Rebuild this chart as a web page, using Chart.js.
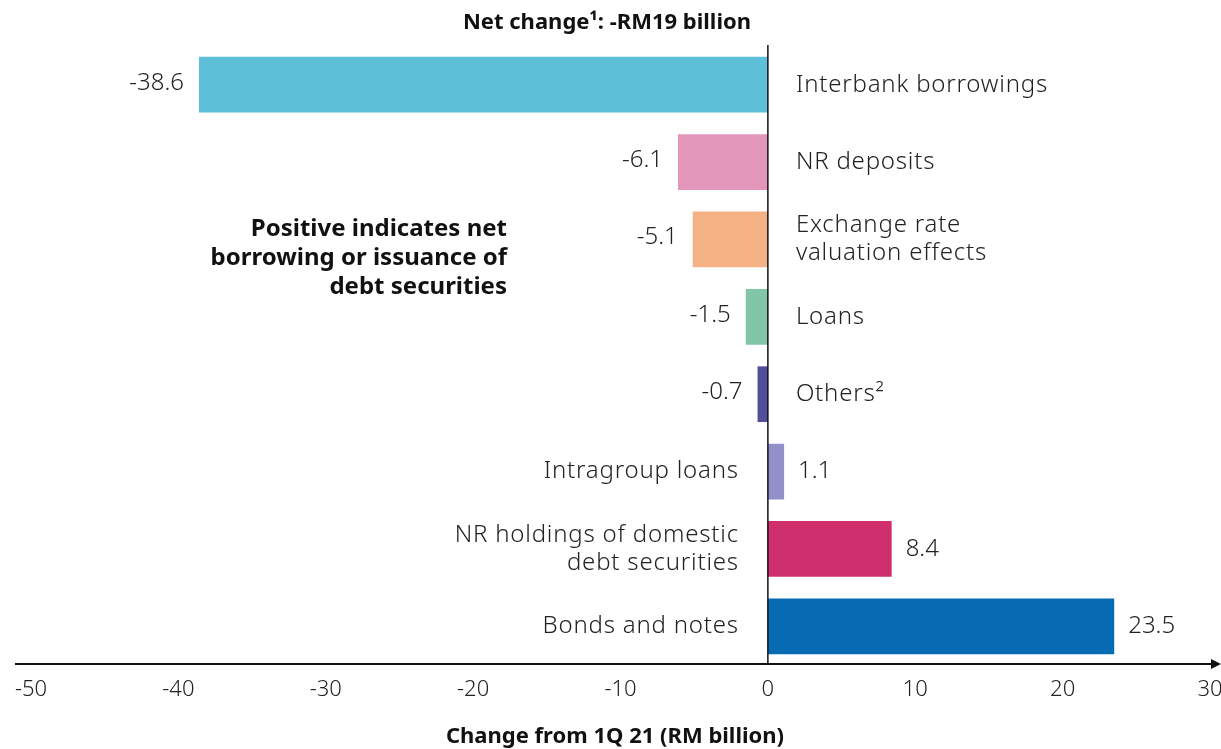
<!DOCTYPE html>
<html>
<head>
<meta charset="utf-8">
<script src="https://cdn.jsdelivr.net/npm/chart.js@4/dist/chart.umd.min.js"></script>
<style>
  html, body { margin: 0; padding: 0; background: #fff; }
  #wrap { width: 1221px; height: 749px; position: relative; }
</style>
</head>
<body>
<div id="wrap"><canvas id="myChart"></canvas></div>
<script>
var categories = [
  ['Interbank borrowings'],
  ['NR deposits'],
  ['Exchange rate', 'valuation effects'],
  ['Loans'],
  ['Others\u00B2'],
  ['Intragroup loans'],
  ['NR holdings of domestic', 'debt securities'],
  ['Bonds and notes']
];
var values = [-38.6, -6.1, -5.1, -1.5, -0.7, 1.1, 8.4, 23.5];
var valueLabels = ['-38.6', '-6.1', '-5.1', '-1.5', '-0.7', '1.1', '8.4', '23.5'];
var barColors = ['#5DC0D8', '#E196BA', '#F4B183', '#82C6A8', '#514E9C', '#9190C8', '#CF2F6D', '#066BB3'];
var xTicks = [-50, -40, -30, -20, -10, 0, 10, 20, 30];
var titleText = 'Net change\u00B9: -RM19 billion';
var noteLines = ['Positive indicates net', 'borrowing or issuance of', 'debt securities'];
var xTitle = 'Change from 1Q 21 (RM billion)';

var FONT = '"Noto Sans", "Open Sans", sans-serif';

// draws value labels, category labels, zero line, axis arrow and notes
var labelsPlugin = {
  id: 'labels',
  afterDatasetsDraw: function(chart) {
    var ctx = chart.ctx;
    var xs = chart.scales.x;
    var area = chart.chartArea;
    var meta = chart.getDatasetMeta(0);
    var x0 = xs.getPixelForValue(0);

    ctx.save();
    // zero line
    ctx.strokeStyle = '#111';
    ctx.lineWidth = 1.5;
    ctx.beginPath();
    ctx.moveTo(x0, area.top - 1);
    ctx.lineTo(x0, area.bottom);
    ctx.stroke();

    // bottom axis with arrow
    var yAxis = area.bottom - 1;
    ctx.lineWidth = 2;
    ctx.beginPath();
    ctx.moveTo(15, yAxis);
    ctx.lineTo(1214, yAxis);
    ctx.stroke();
    ctx.fillStyle = '#111';
    ctx.beginPath();
    ctx.moveTo(1221, yAxis);
    ctx.lineTo(1211, yAxis - 5);
    ctx.lineTo(1211, yAxis + 5);
    ctx.closePath();
    ctx.fill();

    ctx.font = '300 24px ' + FONT;
    ctx.fillStyle = '#222';
    ctx.textBaseline = 'middle';
    for (var i = 0; i < meta.data.length; i++) {
      var bar = meta.data[i];
      var yc = bar.y;
      var lines = categories[i];
      var lh = 28;
      var startY = yc - (lines.length - 1) * lh / 2;
      ctx.letterSpacing = '0px';
      if (values[i] < 0) {
        ctx.textAlign = 'right';
        ctx.fillText(valueLabels[i], bar.x - 15, yc - 2);
        ctx.letterSpacing = '0.8px';
        ctx.textAlign = 'left';
        for (var j = 0; j < lines.length; j++) {
          ctx.fillText(lines[j], x0 + 28, startY + j * lh);
        }
      } else {
        ctx.textAlign = 'left';
        ctx.fillText(valueLabels[i], bar.x + 14, yc);
        ctx.letterSpacing = '0.8px';
        ctx.textAlign = 'right';
        for (var j = 0; j < lines.length; j++) {
          ctx.fillText(lines[j], x0 - 29, startY + j * lh);
        }
      }
    }
    ctx.letterSpacing = '0px';

    // note text
    ctx.font = 'bold 24px ' + FONT;
    ctx.fillStyle = '#111';
    ctx.textAlign = 'right';
    for (var k = 0; k < noteLines.length; k++) {
      ctx.fillText(noteLines[k], 507, 229 + k * 29);
    }

    // title and axis title
    ctx.font = 'bold 22px ' + FONT;
    ctx.textAlign = 'center';
    ctx.fillText(titleText, 607, 23);
    ctx.fillText(xTitle, 615, 737);
    ctx.restore();
  }
};

var ctx = document.getElementById('myChart').getContext('2d');
var myChart = new Chart(ctx, {
  type: 'bar',
  data: {
    labels: categories.map(function(c) { return c.join(' '); }),
    datasets: [{
      data: values,
      backgroundColor: barColors,
      borderWidth: 0,
      barPercentage: 0.72,
      categoryPercentage: 1
    }]
  },
  options: {
    indexAxis: 'y',
    responsive: true,
    maintainAspectRatio: false,
    animation: false,
    layout: { padding: { left: 31, right: 11, top: 46, bottom: 0 } },
    plugins: {
      legend: { display: false },
      tooltip: { enabled: false }
    },
    scales: {
      x: {
        min: -50,
        max: 30,
        afterBuildTicks: function(axis) {
          axis.ticks = xTicks.map(function(v) { return { value: v }; });
        },
        afterFit: function(axis) {
          axis.height = 84;
          axis.paddingLeft = 0;
          axis.paddingRight = 0;
        },
        grid: { display: false, drawTicks: false },
        border: { display: false },
        ticks: {
          color: '#222',
          padding: 12,
          font: { family: FONT, size: 22, weight: '300' },
          maxRotation: 0
        }
      },
      y: {
        display: false
      }
    }
  },
  plugins: [labelsPlugin]
});
</script>
</body>
</html>
